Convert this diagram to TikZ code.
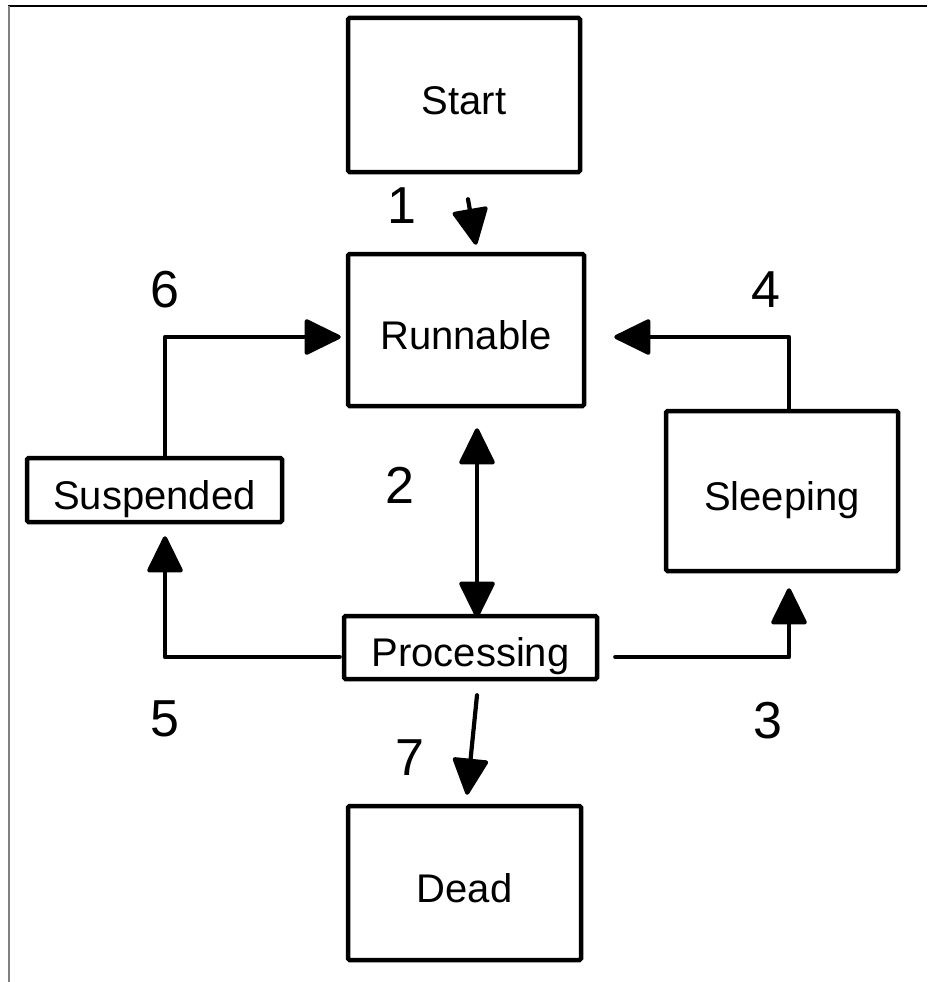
\documentclass[tikz,border=0pt]{standalone}
\usepackage{fontspec}
\setmainfont{Liberation Sans}
\usetikzlibrary{arrows.meta}
\begin{document}
\begin{tikzpicture}[x=1pt,y=-1pt,
  statebox/.style={draw=black,line width=4.5pt,rounded corners=1.5pt,inner sep=0pt,
    text height=38.8pt,text depth=0pt,font=\fontsize{40}{48}\selectfont},
  steplabel/.style={inner sep=0pt,font=\fontsize{52}{60}\selectfont},
  flow/.style={line width=4.2pt,line join=round,line cap=round,
    -{Triangle[length=39pt,width=37pt,round]}},
  flowboth/.style={flow,{Triangle[length=39pt,width=37pt,round]}-{Triangle[length=39pt,width=37pt,round]}}]
\useasboundingbox (0,0) rectangle (927,982);
% frame edges
\draw[black,line width=1.5pt] (8,6) -- (927,6);
\draw[gray,line width=2pt] (8.5,6) -- (8.5,982);

% states
\node[statebox,minimum width=232pt,minimum height=154pt] (start) at (464,95) {Start};
\node[statebox,minimum width=236pt,minimum height=152pt] (runnable) at (466,330) {Runnable};
\node[statebox,minimum width=255pt,minimum height=64pt] (suspended) at (154.5,490) {Suspended};
\node[statebox,minimum width=232pt,minimum height=160pt] (sleeping) at (782,491) {Sleeping};
\node[statebox,minimum width=253pt,minimum height=63pt] (processing) at (470.5,647.5) {Processing};
\node[statebox,minimum width=233pt,minimum height=154pt] (dead) at (464.5,883) {Dead};

% transitions
\draw[flow] ([xshift=4pt,yshift=-25pt]start.south) -- ([xshift=10pt,yshift=7pt]runnable.north);
\draw[flowboth] ([xshift=11pt,yshift=-20pt]runnable.south) -- ([xshift=6.5pt,yshift=-4pt]processing.north);
\draw[flow] ([xshift=16pt,yshift=-9.5pt]processing.east) -| ([xshift=7pt,yshift=-15pt]sleeping.south);
\draw[flow] ([xshift=7pt]sleeping.north) |- ([xshift=28pt,yshift=-7pt]runnable.east);
\draw[flow] ([xshift=-2pt,yshift=-9.5pt]processing.west) -| ([xshift=10.5pt,yshift=-12pt]suspended.south);
\draw[flow] ([xshift=10.5pt]suspended.north) |- ([xshift=-5pt,yshift=-7pt]runnable.west);
\draw[flow] ([xshift=6.5pt,yshift=-14pt]processing.south) -- ([xshift=2.5pt,yshift=9pt]dead.north);

% transition numbers
\node[steplabel] (l1) at (402,206) {1};
\node[steplabel] (l2) at (400,485) {2};
\node[steplabel] (l3) at (768,721) {3};
\node[steplabel] (l4) at (766,290) {4};
\node[steplabel] (l5) at (165,719) {5};
\node[steplabel] (l6) at (165,290) {6};
\node[steplabel] (l7) at (410,758) {7};
\end{tikzpicture}
\end{document}
